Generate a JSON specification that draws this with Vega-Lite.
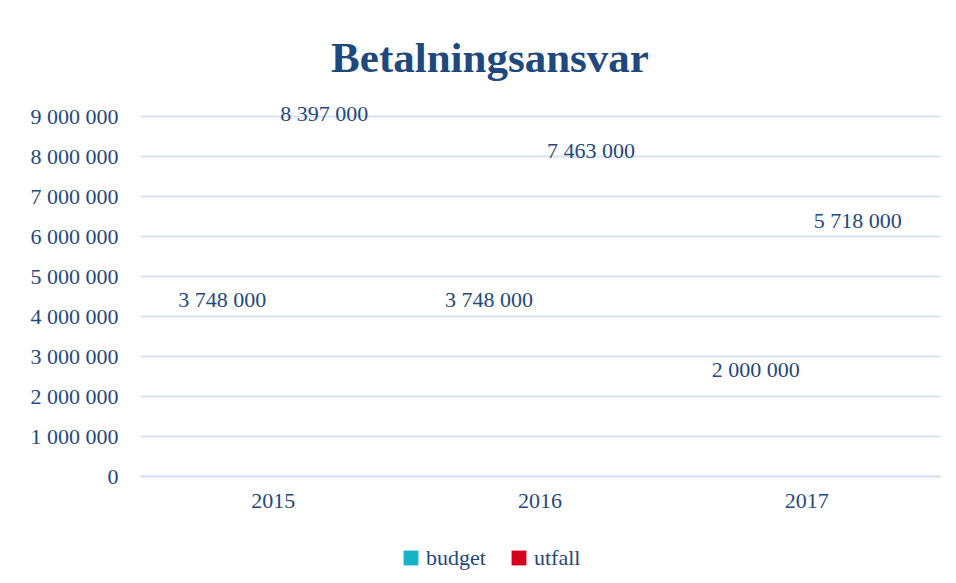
{
  "$schema": "https://vega.github.io/schema/vega-lite/v6.json",
  "width": 800,
  "height": 360,
  "autosize": {"type": "none"},
  "padding": {"left": 140, "top": 116, "right": 16, "bottom": 107},
  "background": "white",
  "title": {
    "text": "Betalningsansvar",
    "font": "Liberation Serif",
    "fontSize": 43,
    "fontWeight": "bold",
    "color": "#1F497D",
    "anchor": "middle",
    "dx": -50,
    "offset": 22
  },
  "config": {
    "locale": {"number": {"decimal": ",", "thousands": " ", "grouping": [3], "currency": ["", " kr"]}},
    "view": {"stroke": null},
    "font": "Liberation Serif"
  },
  "data": {
    "values": [
      {"year": "2015", "serie": "budget", "value": 3748000},
      {"year": "2015", "serie": "utfall", "value": 8397000},
      {"year": "2016", "serie": "budget", "value": 3748000},
      {"year": "2016", "serie": "utfall", "value": 7463000},
      {"year": "2017", "serie": "budget", "value": 2000000},
      {"year": "2017", "serie": "utfall", "value": 5718000}
    ]
  },
  "encoding": {
    "x": {
      "field": "year", "type": "nominal",
      "scale": {"paddingInner": 0.235, "paddingOuter": 0.1175},
      "axis": {
        "title": null, "labelAngle": 0, "labelFont": "Liberation Serif", "labelFontSize": 22,
        "labelColor": "#1F497D", "ticks": false, "domainColor": "#D9E2F3", "domainWidth": 2, "labelPadding": 14
      }
    },
    "xOffset": {"field": "serie", "type": "nominal"},
    "y": {
      "field": "value", "type": "quantitative",
      "scale": {"domain": [0, 9000000]},
      "axis": {
        "title": null, "tickCount": 9, "format": ",d", "labelFont": "Liberation Serif", "labelFontSize": 22,
        "labelColor": "#1F497D", "ticks": false, "domain": false, "gridColor": "#D9E2F3", "gridWidth": 2, "labelPadding": 22
      }
    }
  },
  "layer": [
    {
      "mark": {"type": "bar", "fillOpacity": 0, "strokeOpacity": 0},
      "encoding": {
        "color": {
          "field": "serie", "type": "nominal",
          "scale": {"domain": ["budget", "utfall"], "range": ["#17B2C6", "#D6001C"]},
          "legend": {
            "title": null, "orient": "none", "direction": "horizontal",
            "legendX": 260, "legendY": 431,
            "symbolType": "square", "symbolSize": 220, "symbolOpacity": 1, "symbolStrokeWidth": 0,
            "labelFont": "Liberation Serif", "labelFontSize": 22, "labelColor": "#1F497D",
            "columnPadding": 22, "labelOffset": 4
          }
        }
      }
    },
    {
      "mark": {"type": "text", "baseline": "bottom", "dy": -14, "font": "Liberation Serif", "fontSize": 22, "color": "#1F497D"},
      "encoding": {
        "text": {"field": "value", "type": "quantitative", "format": ",d"}
      }
    }
  ]
}
